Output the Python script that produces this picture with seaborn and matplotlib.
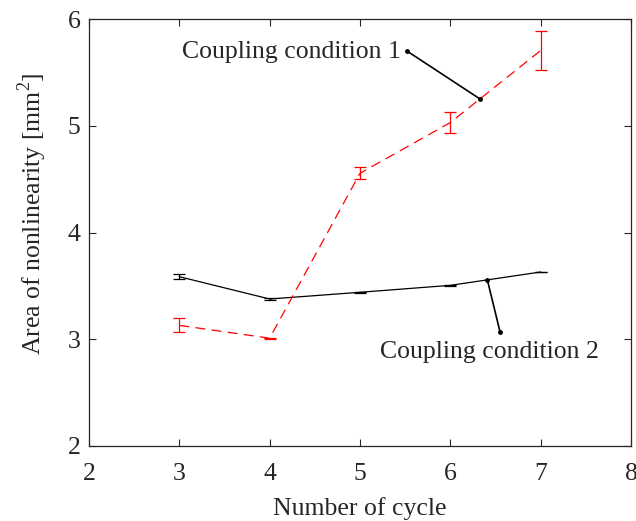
import numpy as np
import pandas as pd
import matplotlib
matplotlib.use("Agg")
import matplotlib.pyplot as plt
import seaborn as sns

# data
cycles = [3, 4, 5, 6, 7]
area_cond1 = [3.13, 3.01, 4.555, 5.03, 5.705]
err_cond1 = [0.065, 0.005, 0.055, 0.10, 0.185]
area_cond2 = [3.586, 3.377, 3.44, 3.505, 3.63]
err_cond2 = [0.025, 0.005, 0.005, 0.005, 0.004]

sns.set_theme(style="ticks")
plt.rcParams['font.family'] = ['Liberation Serif', 'DejaVu Serif']
plt.rcParams['mathtext.fontset'] = 'custom'
plt.rcParams['mathtext.rm'] = 'Liberation Serif'
fs = 18.5

df = pd.DataFrame({
    'cycle': cycles * 2,
    'area': area_cond1 + area_cond2,
    'cond': ['Coupling condition 1'] * 5 + ['Coupling condition 2'] * 5,
})

fig = plt.figure(figsize=(6.36, 5.21), dpi=100)
ax = fig.add_axes([89 / 636, 1 - 446 / 521, (631 - 89) / 636, (446 - 19) / 521])

sns.lineplot(data=df[df.cond == 'Coupling condition 2'], x='cycle', y='area',
             color='black', lw=0.9, ax=ax, legend=False)
sns.lineplot(data=df[df.cond == 'Coupling condition 1'], x='cycle', y='area',
             color='red', lw=0.9, ax=ax, legend=False)
ax.lines[-1].set_dashes((8, 5))

ax.errorbar(cycles, area_cond2, yerr=err_cond2, fmt='none', ecolor='black',
            elinewidth=0.9, capsize=4, capthick=0.9)
ax.errorbar(cycles, area_cond1, yerr=err_cond1, fmt='none', ecolor='red',
            elinewidth=0.9, capsize=4, capthick=0.9)

# callouts
ax.plot([5.52, 6.33], [5.70, 5.25], color='black', lw=1.2, marker='o', ms=2.5)
ax.plot([6.41, 6.55], [3.555, 3.07], color='black', lw=1.2, marker='o', ms=2.5)
ax.text(5.45, 5.69, 'Coupling condition 1', ha='right', va='center', fontsize=fs)
ax.text(5.22, 2.88, 'Coupling condition 2', ha='left', va='center', fontsize=fs)

ax.set_xlim(2, 8)
ax.set_ylim(2, 6)
ax.set_xticks(range(2, 9))
ax.set_yticks(range(2, 7))
ax.set_xlabel('Number of cycle', fontsize=fs, labelpad=9)
ax.set_ylabel('Area of nonlinearity [mm$^2$]', fontsize=fs)
ax.yaxis.set_label_coords(-0.074, 0.543)
ax.tick_params(direction='in', length=5, width=0.8, top=True, right=True,
               labelsize=fs, colors='#262626')
ax.tick_params(axis='x', pad=12)
ax.tick_params(axis='y', pad=6)
for s in ax.spines.values():
    s.set_visible(True)
    s.set_linewidth(0.9)
    s.set_color('#262626')

fig.savefig('out.png', dpi=100)
